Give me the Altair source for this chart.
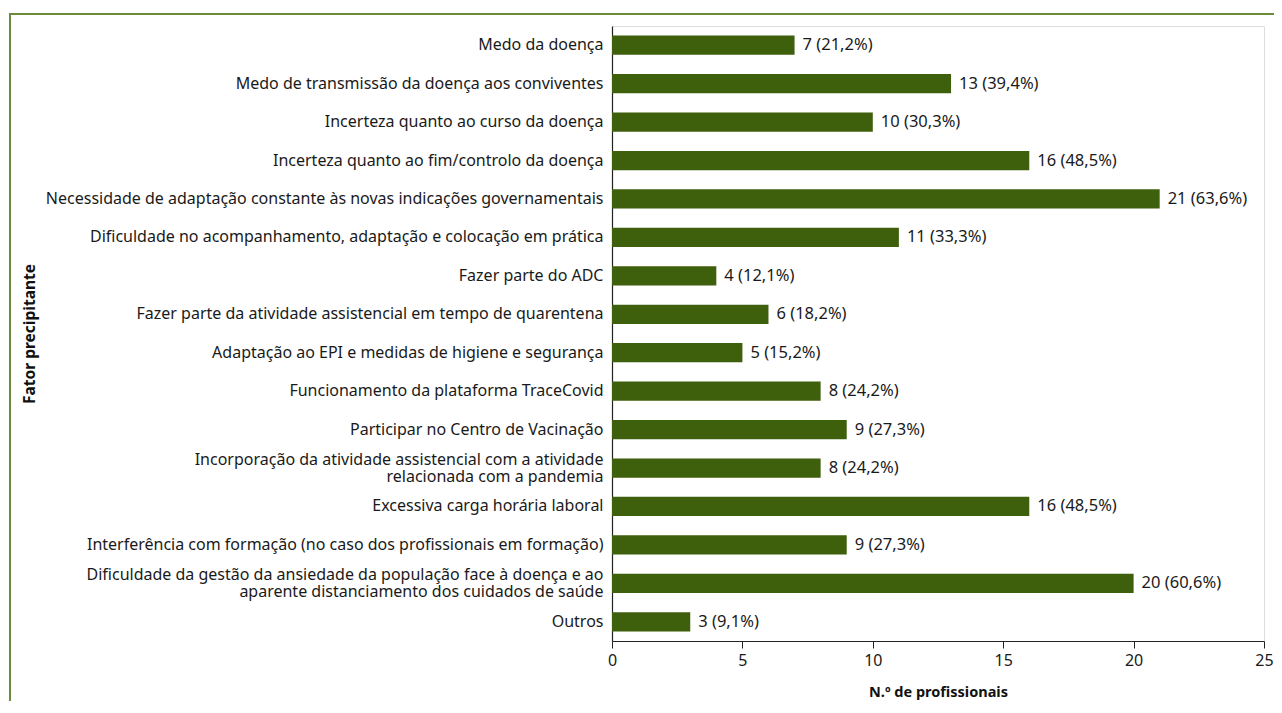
import altair as alt
import pandas as pd

categories = [
    "Medo da doença",
    "Medo de transmissão da doença aos conviventes",
    "Incerteza quanto ao curso da doença",
    "Incerteza quanto ao fim/controlo da doença",
    "Necessidade de adaptação constante às novas indicações governamentais",
    "Dificuldade no acompanhamento, adaptação e colocação em prática",
    "Fazer parte do ADC",
    "Fazer parte da atividade assistencial em tempo de quarentena",
    "Adaptação ao EPI e medidas de higiene e segurança",
    "Funcionamento da plataforma TraceCovid",
    "Participar no Centro de Vacinação",
    "Incorporação da atividade assistencial com a atividade|relacionada com a pandemia",
    "Excessiva carga horária laboral",
    "Interferência com formação (no caso dos profissionais em formação)",
    "Dificuldade da gestão da ansiedade da população face à doença e ao|aparente distanciamento dos cuidados de saúde",
    "Outros",
]
counts = [7, 13, 10, 16, 21, 11, 4, 6, 5, 8, 9, 8, 16, 9, 20, 3]
value_labels = [
    "7 (21,2%)", "13 (39,4%)", "10 (30,3%)", "16 (48,5%)", "21 (63,6%)",
    "11 (33,3%)", "4 (12,1%)", "6 (18,2%)", "5 (15,2%)", "8 (24,2%)",
    "9 (27,3%)", "8 (24,2%)", "16 (48,5%)", "9 (27,3%)", "20 (60,6%)", "3 (9,1%)",
]

df = pd.DataFrame({"cat": categories, "n": counts, "lab": value_labels})

FONT = "Noto Sans"
BAR = "#3e5f0b"

x_scale = alt.Scale(domain=[0, 25], nice=False)
y_scale = alt.Scale(paddingInner=0.5, paddingOuter=0.25)

y_enc = alt.Y(
    "cat:N",
    sort=categories,
    scale=y_scale,
    axis=alt.Axis(
        title="Fator precipitante",
        titleFontWeight="bold",
        titleFontSize=15.5,
        titleX=-575,
        titleAngle=-90,
        labelExpr="split(datum.label, '|')",
        labelLineHeight=17,
        labelOffset={
            "condition": {"test": "indexof(datum.value, '|') >= 0", "value": -8.5},
            "value": 0,
        },
        labelFontSize=16,
        labelColor="#1a1a1a",
        labelPadding=9,
        labelLimit=700,
        ticks=False,
        domainColor="#222222",
        domainWidth=1.2,
    ),
)

bars = alt.Chart(df).mark_bar(color=BAR).encode(
    x=alt.X(
        "n:Q",
        scale=x_scale,
        axis=alt.Axis(
            title="N.º de profissionais",
            titleFontWeight="bold",
            titleFontSize=14.5,
            titlePadding=17,
            values=[0, 5, 10, 15, 20, 25],
            labelFontSize=16,
            labelFlush=False,
            labelColor="#1a1a1a",
            tickSize=7,
            tickColor="#222222",
            domainColor="#222222",
            domainWidth=1.2,
            grid=False,
            labelPadding=4,
        ),
    ),
    y=y_enc,
)

texts = alt.Chart(df).mark_text(
    align="left", baseline="middle", dx=8, fontSize=16.5, color="#1a1a1a", font=FONT
).encode(
    x=alt.X("n:Q", scale=x_scale),
    y=alt.Y("cat:N", sort=categories, scale=y_scale),
    text="lab:N",
)

frame = alt.Chart(pd.DataFrame({"a": [0]})).mark_rect(
    fill=None, stroke="#6a8a3c", strokeWidth=2
).encode(
    x=alt.value(-602),
    x2=alt.value(1000),
    y=alt.value(-12),
    y2=alt.value(1000),
)

chart = (
    alt.layer(frame, bars, texts)
    .properties(
        width=652,
        height=615,
        autosize=alt.AutoSizeParams(type="none"),
        padding={"left": 604, "top": 18, "right": 10, "bottom": 60},
    )
    .configure_view(stroke=None)
    .configure(font=FONT)
    .configure_axis(titleColor="#111111", labelFont=FONT, titleFont=FONT)
)

chart.save("out.html", embed_options={"renderer": "svg", "actions": False})
